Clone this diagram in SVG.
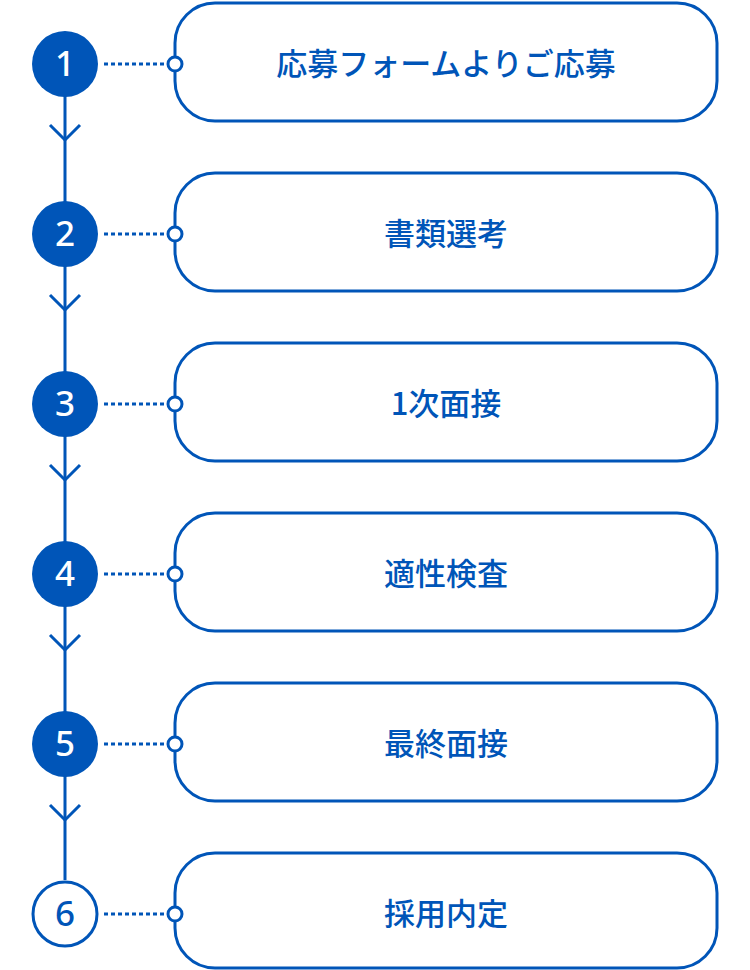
<svg xmlns="http://www.w3.org/2000/svg" width="750" height="970" viewBox="0 0 750 970">
<style>
.box{fill:#fff;stroke:#0055b8;stroke-width:3}
.lbl{font-family:"Noto Sans CJK JP","Noto Sans",sans-serif;font-size:31px;fill:#0055b8;text-anchor:middle;font-weight:500}
.num{font-family:"Noto Sans","Noto Sans CJK JP",sans-serif;font-size:35px;fill:#fff;text-anchor:middle;font-weight:500}
.dot{stroke:#0055b8;stroke-width:3;stroke-dasharray:4 3;fill:none}
.pin{fill:#fff;stroke:#0055b8;stroke-width:3}
.line{stroke:#0055b8;stroke-width:3;fill:none}
</style>
<rect width="750" height="970" fill="#fff"/>
<g id="connectors">
<line class="line" x1="65" y1="64" x2="65" y2="880"/>
<polyline class="line" points="50,125 65,140 80,125"/>
<polyline class="line" points="50,295 65,310 80,295"/>
<polyline class="line" points="50,465 65,480 80,465"/>
<polyline class="line" points="50,635 65,650 80,635"/>
<polyline class="line" points="50,805 65,820 80,805"/>
<line class="dot" x1="104" y1="64" x2="168" y2="64"/>
<line class="dot" x1="104" y1="234" x2="168" y2="234"/>
<line class="dot" x1="104" y1="404" x2="168" y2="404"/>
<line class="dot" x1="104" y1="574" x2="168" y2="574"/>
<line class="dot" x1="104" y1="744" x2="168" y2="744"/>
<line class="dot" x1="104" y1="914" x2="168" y2="914"/>
</g>
<g id="n1"><circle cx="65" cy="64" r="33" fill="#0055b8"/><text class="num" x="65" y="76">1</text>
<rect class="box" x="175" y="3" width="542" height="118" rx="40"/><circle class="pin" cx="175" cy="64" r="7"/><text class="lbl" x="446" y="75">応募フォームよりご応募</text></g>
<g id="n2"><circle cx="65" cy="234" r="33" fill="#0055b8"/><text class="num" x="65" y="246">2</text>
<rect class="box" x="175" y="173" width="542" height="118" rx="40"/><circle class="pin" cx="175" cy="234" r="7"/><text class="lbl" x="446" y="245">書類選考</text></g>
<g id="n3"><circle cx="65" cy="404" r="33" fill="#0055b8"/><text class="num" x="65" y="416">3</text>
<rect class="box" x="175" y="343" width="542" height="118" rx="40"/><circle class="pin" cx="175" cy="404" r="7"/><text class="lbl" x="446" y="415">1次面接</text></g>
<g id="n4"><circle cx="65" cy="574" r="33" fill="#0055b8"/><text class="num" x="65" y="586">4</text>
<rect class="box" x="175" y="513" width="542" height="118" rx="40"/><circle class="pin" cx="175" cy="574" r="7"/><text class="lbl" x="446" y="585">適性検査</text></g>
<g id="n5"><circle cx="65" cy="744" r="33" fill="#0055b8"/><text class="num" x="65" y="756">5</text>
<rect class="box" x="175" y="683" width="542" height="118" rx="40"/><circle class="pin" cx="175" cy="744" r="7"/><text class="lbl" x="446" y="755">最終面接</text></g>
<g id="n6"><circle cx="65" cy="914" r="32" fill="#fff" stroke="#0055b8" stroke-width="3"/><text class="num" x="65" y="926" style="fill:#0055b8">6</text>
<rect class="box" x="175" y="853" width="542" height="115" rx="40"/><circle class="pin" cx="175" cy="914" r="7"/><text class="lbl" x="446" y="925">採用内定</text></g>
</svg>
